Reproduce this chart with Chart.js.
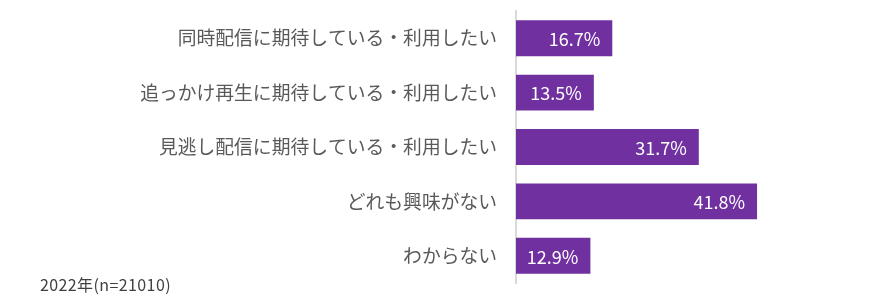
<!DOCTYPE html>
<html>
<head>
<meta charset="utf-8">
<script src="https://cdn.jsdelivr.net/npm/chart.js@4"></script>
<style>
  html, body { margin: 0; padding: 0; background: #fff; }
  #wrap { position: relative; width: 885px; height: 296px; }
  #note {
    position: absolute; left: 40px; top: 272px;
    font: 16px "Noto Sans CJK JP", sans-serif; color: #404040;
    letter-spacing: 0.4px;
  }
</style>
</head>
<body>
<div id="wrap">
  <canvas id="myChart" width="885" height="296"></canvas>
  <div id="note">2022年(n=21010)</div>
</div>
<script>
  const labels = [
    '同時配信に期待している・利用したい',
    '追っかけ再生に期待している・利用したい',
    '見逃し配信に期待している・利用したい',
    'どれも興味がない',
    'わからない',
  ];
  const values = [16.7, 13.5, 31.7, 41.8, 12.9];

  // value text inside the end of each bar
  const barValues = {
    id: 'barValues',
    afterDatasetsDraw(chart) {
      const ctx = chart.ctx;
      const meta = chart.getDatasetMeta(0);
      ctx.save();
      ctx.font = '18px "Noto Sans CJK JP", sans-serif';
      ctx.fillStyle = '#ffffff';
      ctx.textAlign = 'right';
      ctx.textBaseline = 'middle';
      meta.data.forEach((bar, i) => {
        ctx.fillText(values[i].toFixed(1) + '%', bar.x - 12, bar.y + 1);
      });
      ctx.restore();
    }
  };

  const data = {
    labels: labels,
    datasets: [{
      label: '',
      data: values,
      backgroundColor: 'rgb(112, 48, 160)',
      categoryPercentage: 0.66,
      barPercentage: 1.0
    }]
  };

  const config = {
    type: 'bar',
    data,
    options: {
      indexAxis: 'y',
      responsive: false,
      animation: false,
      layout: { padding: { top: 11, bottom: 13, right: 23, left: 0 } },
      plugins: {
        legend: { display: false },
        tooltip: { enabled: false }
      },
      scales: {
        x: {
          display: false,
          min: 0,
          max: 60
        },
        y: {
          afterFit(scale) {
            scale.width = 516;
            scale.paddingTop = 0;
            scale.paddingBottom = 0;
          },
          grid: { display: false },
          border: { display: true, color: '#d9d9d9', width: 2 },
          ticks: {
            padding: 11,
            color: '#595959',
            font: { size: 18.8, family: '"Noto Sans CJK JP", sans-serif' }
          }
        }
      }
    },
    plugins: [barValues]
  };

  var myChart = new Chart(
    document.getElementById('myChart'),
    config
  );
</script>
</body>
</html>
